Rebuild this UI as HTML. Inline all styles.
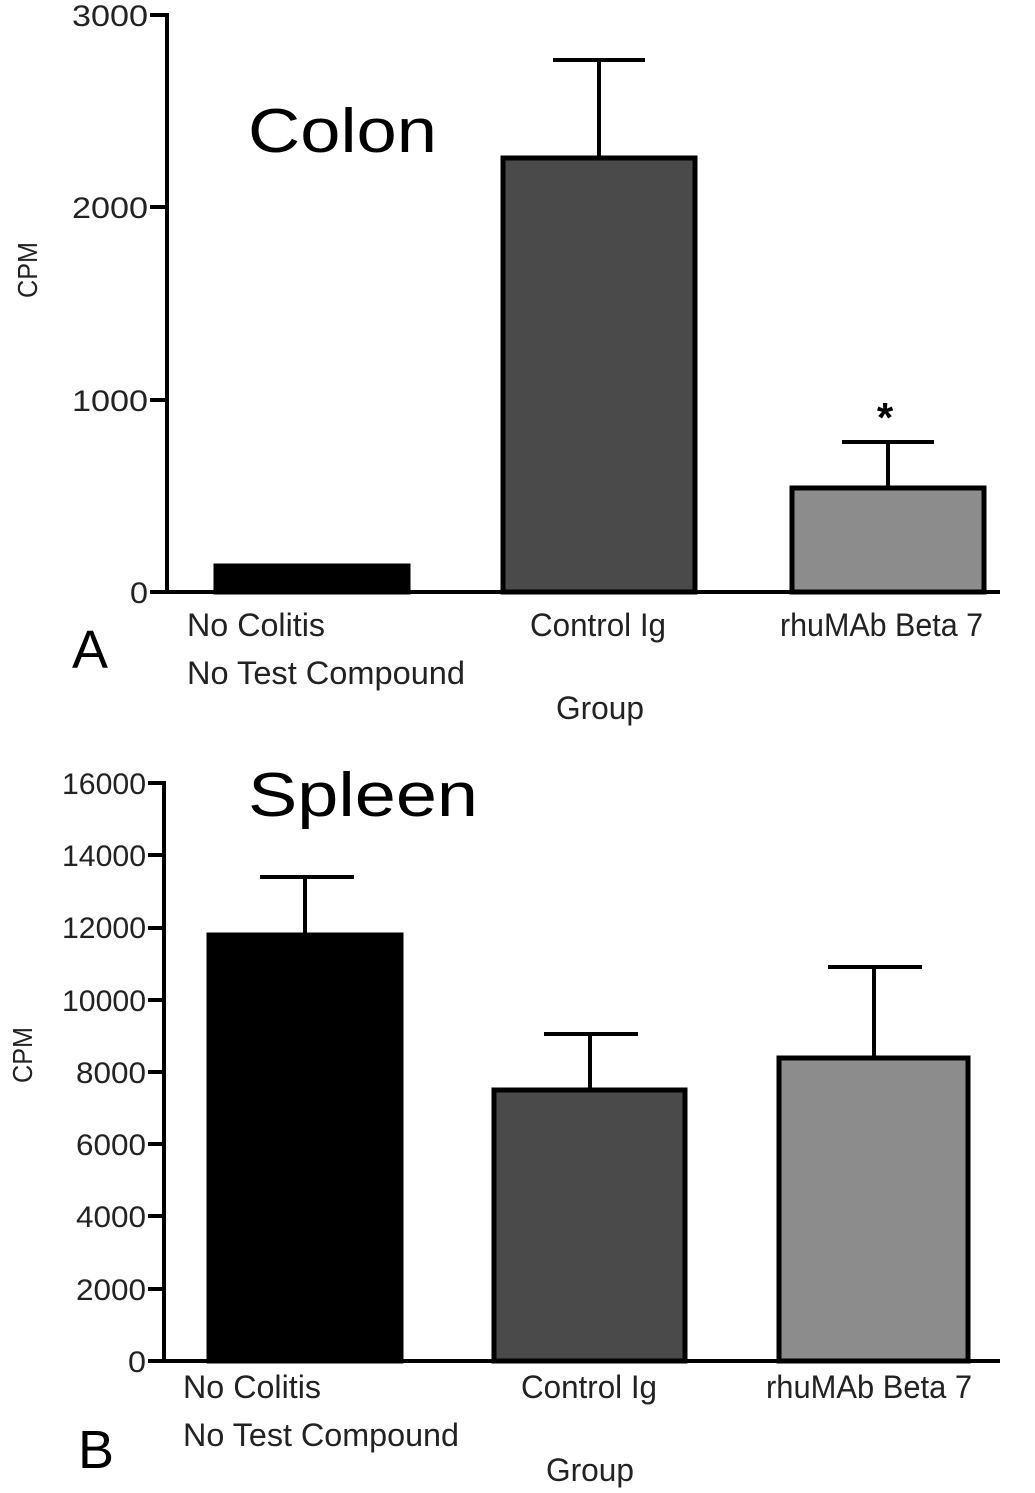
<!DOCTYPE html>
<html><head><meta charset="utf-8"><style>body{margin:0;background:#fff}svg{display:block}</style></head>
<body>
<svg width="1035" height="1493" viewBox="0 0 1035 1493" xmlns="http://www.w3.org/2000/svg" font-family="Liberation Sans, Arial, sans-serif">
<g fill="#222" font-size="30" text-anchor="end">
<text x="148" y="26" textLength="76" lengthAdjust="spacingAndGlyphs">3000</text>
<text x="148" y="218" textLength="76" lengthAdjust="spacingAndGlyphs">2000</text>
<text x="148" y="411" textLength="76" lengthAdjust="spacingAndGlyphs">1000</text>
<text x="148" y="603" textLength="18" lengthAdjust="spacingAndGlyphs">0</text>
</g>
<g stroke="#000" stroke-width="4" fill="none">
<path d="M150 15H167V592H1000"/>
<path d="M150 207H167M150 400H167M150 592H167"/>
</g>
<text x="37" y="270" font-size="28" fill="#222" transform="rotate(-90 37 270)" text-anchor="middle" textLength="56" lengthAdjust="spacingAndGlyphs">CPM</text>
<text x="248" y="152" font-size="62" fill="#000" textLength="189" lengthAdjust="spacingAndGlyphs">Colon</text>
<text x="72" y="668" font-size="54" fill="#000">A</text>
<g stroke="#000" stroke-width="5">
<rect x="216" y="566" width="192" height="26" fill="#000"/>
<rect x="503" y="158" width="192" height="434" fill="#4a4a4a"/>
<rect x="792" y="488" width="192" height="104" fill="#8c8c8c"/>
<path d="M599 156V60M553 60H645M888 486V442M842 442H934" fill="none" stroke-width="4"/>
</g>
<text x="885" y="432" font-size="42" font-weight="bold" text-anchor="middle">*</text>
<g fill="#222" font-size="32">
<text x="187" y="636" textLength="138" lengthAdjust="spacingAndGlyphs">No Colitis</text>
<text x="187" y="684" textLength="278" lengthAdjust="spacingAndGlyphs">No Test Compound</text>
<text x="530" y="636" textLength="136" lengthAdjust="spacingAndGlyphs">Control Ig</text>
<text x="780" y="636" textLength="203" lengthAdjust="spacingAndGlyphs">rhuMAb Beta 7</text>
<text x="556" y="719" textLength="88" lengthAdjust="spacingAndGlyphs">Group</text>
</g>

<g fill="#222" font-size="30" text-anchor="end">
<text x="146" y="794" textLength="84" lengthAdjust="spacingAndGlyphs">16000</text>
<text x="146" y="866" textLength="84" lengthAdjust="spacingAndGlyphs">14000</text>
<text x="146" y="938" textLength="84" lengthAdjust="spacingAndGlyphs">12000</text>
<text x="146" y="1011" textLength="84" lengthAdjust="spacingAndGlyphs">10000</text>
<text x="146" y="1083" textLength="70" lengthAdjust="spacingAndGlyphs">8000</text>
<text x="146" y="1155" textLength="70" lengthAdjust="spacingAndGlyphs">6000</text>
<text x="146" y="1227" textLength="70" lengthAdjust="spacingAndGlyphs">4000</text>
<text x="146" y="1300" textLength="70" lengthAdjust="spacingAndGlyphs">2000</text>
<text x="146" y="1372" textLength="18" lengthAdjust="spacingAndGlyphs">0</text>
</g>
<g stroke="#000" stroke-width="4" fill="none">
<path d="M148 783H164V1361H1000"/>
<path d="M148 855H164M148 928H164M148 1000H164M148 1072H164M148 1144H164M148 1216H164M148 1289H164M148 1361H164"/>
</g>
<text x="32" y="1055" font-size="28" fill="#222" transform="rotate(-90 32 1055)" text-anchor="middle" textLength="56" lengthAdjust="spacingAndGlyphs">CPM</text>
<text x="248" y="816" font-size="62" fill="#000" textLength="230" lengthAdjust="spacingAndGlyphs">Spleen</text>
<text x="78" y="1468" font-size="54" fill="#000">B</text>
<g stroke="#000" stroke-width="5">
<rect x="209" y="935" width="192" height="426" fill="#000"/>
<rect x="494" y="1090" width="191" height="271" fill="#4a4a4a"/>
<rect x="779" y="1058" width="189" height="303" fill="#8c8c8c"/>
<path d="M305 933V877M260 877H354M590 1088V1034M544 1034H638M874 1056V967M828 967H922" fill="none" stroke-width="4"/>
</g>
<g fill="#222" font-size="32">
<text x="183" y="1398" textLength="138" lengthAdjust="spacingAndGlyphs">No Colitis</text>
<text x="183" y="1446" textLength="276" lengthAdjust="spacingAndGlyphs">No Test Compound</text>
<text x="521" y="1398" textLength="136" lengthAdjust="spacingAndGlyphs">Control Ig</text>
<text x="766" y="1398" textLength="206" lengthAdjust="spacingAndGlyphs">rhuMAb Beta 7</text>
<text x="546" y="1481" textLength="88" lengthAdjust="spacingAndGlyphs">Group</text>
</g>
</svg>
</body></html>
